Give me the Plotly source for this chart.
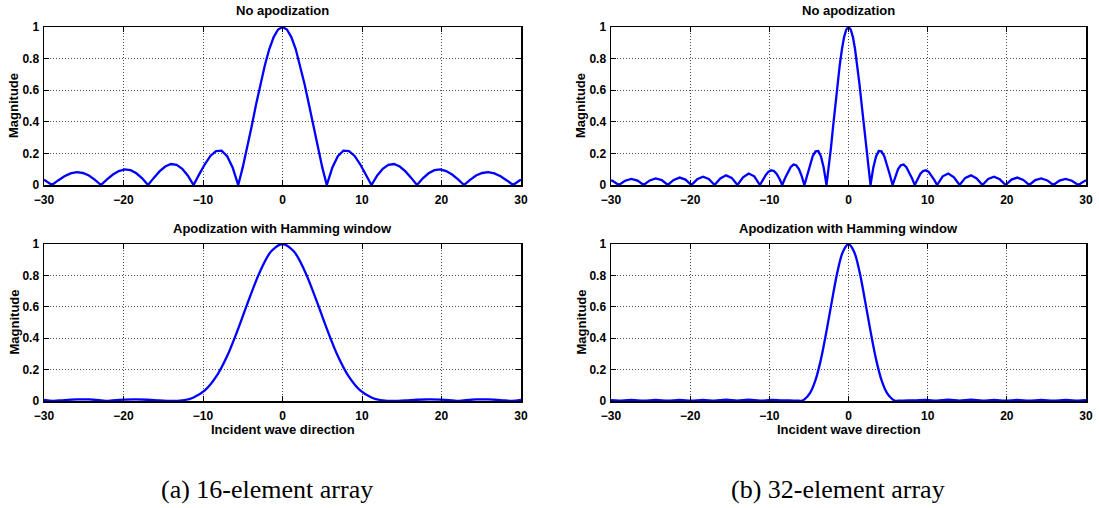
import plotly.graph_objects as go

# ---------------- data ----------------
angle_uni16 = [-30, -29.81, -29.01, -28.22, -27.43, -26.65, -25.88, -25.11, -24.35, -23.59, -22.83,
               -22.08, -21.33, -20.59, -19.85, -19.11, -18.38, -17.65, -16.92, -16.19, -15.47, -14.75,
               -14.03, -13.32, -12.61, -11.90, -11.19, -10.48, -9.77, -9.07, -8.37, -7.66, -6.96,
               -6.26, -5.57, -5.01, -4.45, -3.89, -3.34, -2.78, -2.22, -1.67, -1.11, -0.56,
               0,
               0.56, 1.11, 1.67, 2.22, 2.78, 3.34, 3.89, 4.45, 5.01, 5.57, 6.26, 6.96, 7.66, 8.37,
               9.07, 9.77, 10.48, 11.19, 11.90, 12.61, 13.32, 14.03, 14.75, 15.47, 16.19, 16.92,
               17.65, 18.38, 19.11, 19.85, 20.59, 21.33, 22.08, 22.83, 23.59, 24.35, 25.11, 25.88,
               26.65, 27.43, 28.22, 29.01, 29.81, 30]
mag_uni16 = [0.034, 0.028, 0, 0.029, 0.055, 0.073, 0.081, 0.076, 0.060, 0.033, 0,
             0.035, 0.066, 0.088, 0.099, 0.094, 0.074, 0.042, 0, 0.045, 0.086, 0.117,
             0.133, 0.128, 0.103, 0.059, 0, 0.067, 0.131, 0.184, 0.215, 0.217, 0.182,
             0.109, 0, 0.110, 0.235, 0.369, 0.506, 0.638, 0.758, 0.859, 0.936, 0.984,
             1,
             0.984, 0.936, 0.859, 0.758, 0.638, 0.506, 0.369, 0.235, 0.110, 0, 0.109, 0.182, 0.217, 0.215,
             0.184, 0.131, 0.067, 0, 0.059, 0.103, 0.128, 0.133, 0.117, 0.086, 0.045, 0,
             0.042, 0.074, 0.094, 0.099, 0.088, 0.066, 0.035, 0, 0.033, 0.060, 0.076, 0.081,
             0.073, 0.055, 0.029, 0, 0.028, 0.034]

angle_ham16 = [-30, -28.85, -27.43, -25.88, -24.35, -22.83, -22.05, -21.33, -19.85, -18.38, -16.92,
               -15.47, -13.46, -12.89, -12.32, -11.75, -11.19, -9.77, -8.37, -6.96, -5.57, -4.17,
               -2.78, -1.39,
               0,
               1.39, 2.78, 4.17, 5.57, 6.96, 8.37, 9.77, 11.19, 11.75, 12.32, 12.89, 13.46,
               15.47, 16.92, 18.38, 19.85, 21.33, 22.05, 22.83, 24.35, 25.88, 27.43, 28.85, 30]
mag_ham16 = [0.007, 0, 0.006, 0.010, 0.010, 0.004, 0, 0.004, 0.009, 0.010, 0.008,
             0.004, 0, 0.002, 0.006, 0.012, 0.022, 0.067, 0.153, 0.287, 0.461, 0.654,
             0.830, 0.955,
             1,
             0.955, 0.830, 0.654, 0.461, 0.287, 0.153, 0.067, 0.022, 0.012, 0.006, 0.002, 0,
             0.004, 0.008, 0.010, 0.009, 0.004, 0, 0.004, 0.010, 0.010, 0.006, 0, 0.007]

angle_uni32 = [-30, -29.81, -29.01, -28.22, -27.43, -26.65, -25.88, -25.11, -24.35, -23.59, -22.83,
               -22.08, -21.33, -20.59, -19.85, -19.11, -18.38, -17.65, -16.92, -16.19, -15.47,
               -14.75, -14.03, -13.32, -12.61, -11.90, -11.19, -10.83, -10.48, -10.13, -9.77,
               -9.42, -9.07, -8.72, -8.37, -8.02, -7.66, -7.31, -6.96, -6.61, -6.26, -5.92,
               -5.57, -5.22, -4.87, -4.52, -4.17, -3.82, -3.48, -3.13, -2.78, -2.50, -2.22,
               -1.95, -1.67, -1.39, -1.11, -0.83, -0.56, -0.28,
               0,
               0.28, 0.56, 0.83, 1.11, 1.39, 1.67, 1.95, 2.22, 2.50, 2.78, 3.13, 3.48, 3.82,
               4.17, 4.52, 4.87, 5.22, 5.57, 5.92, 6.26, 6.61, 6.96, 7.31, 7.66, 8.02, 8.37,
               8.72, 9.07, 9.42, 9.77, 10.13, 10.48, 10.83, 11.19, 11.90, 12.61, 13.32, 14.03,
               14.75, 15.47, 16.19, 16.92, 17.65, 18.38, 19.11, 19.85, 20.59, 21.33, 22.08,
               22.83, 23.59, 24.35, 25.11, 25.88, 26.65, 27.43, 28.22, 29.01, 29.81, 30]
mag_uni32 = [0.030, 0.026, 0, 0.027, 0.039, 0.028, 0, 0.029, 0.042, 0.031, 0,
             0.032, 0.047, 0.034, 0, 0.036, 0.052, 0.038, 0, 0.041, 0.061,
             0.045, 0, 0.049, 0.073, 0.055, 0, 0.032, 0.061, 0.083, 0.093,
             0.089, 0.070, 0.040, 0, 0.043, 0.083, 0.113, 0.129, 0.125, 0.101, 0.058,
             0, 0.065, 0.129, 0.182, 0.213, 0.215, 0.181, 0.109, 0, 0.109, 0.234,
             0.368, 0.505, 0.637, 0.757, 0.859, 0.936, 0.984,
             1,
             0.984, 0.936, 0.859, 0.757, 0.637, 0.505, 0.368, 0.234, 0.109, 0, 0.109, 0.181, 0.215,
             0.213, 0.182, 0.129, 0.065, 0, 0.058, 0.101, 0.125, 0.129, 0.113, 0.083, 0.043, 0,
             0.040, 0.070, 0.089, 0.093, 0.083, 0.061, 0.032, 0, 0.055, 0.073, 0.049, 0,
             0.045, 0.061, 0.041, 0, 0.038, 0.052, 0.036, 0, 0.034, 0.047, 0.032,
             0, 0.031, 0.042, 0.029, 0, 0.028, 0.039, 0.027, 0, 0.026, 0.030]

angle_ham32 = [-30, -29.01, -27.43, -25.88, -24.35, -22.83, -21.33, -19.85, -18.38, -16.92, -15.47,
               -14.03, -12.61, -11.19, -9.77, -8.37, -6.96, -6.26, -6.07, -5.92, -5.57, -4.87,
               -4.17, -3.48, -2.78, -2.08, -1.39, -0.69,
               0,
               0.69, 1.39, 2.08, 2.78, 3.48, 4.17, 4.87, 5.57, 5.92, 6.07, 6.26, 6.96, 8.37,
               9.77, 11.19, 12.61, 14.03, 15.47, 16.92, 18.38, 19.85, 21.33, 22.83, 24.35,
               25.88, 27.43, 29.01, 30]
mag_ham32 = [0.005, 0.002, 0.007, 0.002, 0.007, 0.002, 0.007, 0.002, 0.007, 0.002, 0.008,
             0.002, 0.008, 0.002, 0.007, 0.004, 0.003, 0.002, 0, 0.001, 0.010, 0.050,
             0.133, 0.266, 0.445, 0.641, 0.824, 0.953,
             1,
             0.953, 0.824, 0.641, 0.445, 0.266, 0.133, 0.050, 0.010, 0.001, 0, 0.002, 0.003, 0.004,
             0.007, 0.002, 0.008, 0.002, 0.008, 0.002, 0.007, 0.002, 0.007, 0.002, 0.007,
             0.002, 0.007, 0.002, 0.005]

x_ticks = [-30, -20, -10, 0, 10, 20, 30]
y_ticks = [0, 0.2, 0.4, 0.6, 0.8, 1]
y_tick_text = ["0", "0.2", "0.4", "0.6", "0.8", "1"]
titles_top = "No apodization"
titles_bottom = "Apodization with Hamming window"
y_label = "Magnitude"
x_label = "Incident wave direction"
captions = ["(a) 16-element array", "(b) 32-element array"]

# ---------------- figure ----------------
W, H = 1099, 508
SANS = "Liberation Sans, Arial, Helvetica, sans-serif"
BLUE = "#0000ff"

fig = go.Figure()

panels = [
    ("x", "y", angle_uni16, mag_uni16, "linear"),
    ("x2", "y2", angle_uni32, mag_uni32, "linear"),
    ("x3", "y3", angle_ham16, mag_ham16, "spline"),
    ("x4", "y4", angle_ham32, mag_ham32, "spline"),
]
for xa, ya, xs, ys, shape in panels:
    fig.add_trace(go.Scatter(x=xs, y=ys, xaxis=xa, yaxis=ya, mode="lines",
                             line=dict(color=BLUE, width=2.3, shape=shape),
                             showlegend=False, hoverinfo="skip"))

def px_x(p):
    return p / W

def px_y(p):
    return 1 - p / H

left_dom = [px_x(44), px_x(521)]
right_dom = [px_x(611), px_x(1086)]
top_dom = [px_y(185), px_y(27)]
bot_dom = [px_y(401), px_y(244)]

tickfont = dict(family=SANS, size=12, color="black", weight="bold")
GRID = dict(showgrid=True, gridcolor="#4d4d4d", gridwidth=1, griddash="1px,2px")

def xaxis(dom, anchor):
    return dict(domain=dom, anchor=anchor, range=[-30, 30], tickvals=x_ticks,
                ticks="inside", ticklen=5, tickwidth=1, tickcolor="black",
                showline=True, linecolor="black", linewidth=1.5, mirror="allticks",
                zeroline=False, tickfont=tickfont, fixedrange=True, automargin=False,
                ticklabelstandoff=3, **GRID)

def yaxis(dom, anchor):
    return dict(domain=dom, anchor=anchor, range=[0, 1], tickvals=y_ticks, ticktext=y_tick_text,
                ticks="inside", ticklen=5, tickwidth=1, tickcolor="black",
                showline=True, linecolor="black", linewidth=1.5, mirror="allticks",
                zeroline=False, tickfont=tickfont, fixedrange=True, automargin=False,
                ticklabelstandoff=1, **GRID)

fig.update_layout(
    template="none",
    width=W, height=H, autosize=False,
    margin=dict(l=0, r=0, t=0, b=0, pad=0),
    paper_bgcolor="white", plot_bgcolor="white",
    hovermode=False,
    xaxis=xaxis(left_dom, "y"), yaxis=yaxis(top_dom, "x"),
    xaxis2=xaxis(right_dom, "y2"), yaxis2=yaxis(top_dom, "x2"),
    xaxis3=xaxis(left_dom, "y3"), yaxis3=yaxis(bot_dom, "x3"),
    xaxis4=xaxis(right_dom, "y4"), yaxis4=yaxis(bot_dom, "x4"),
)

lab = dict(family=SANS, size=13, color="black", weight="bold")
ann = []
cx_left = (left_dom[0] + left_dom[1]) / 2
cx_right = (right_dom[0] + right_dom[1]) / 2
for cx in (cx_left, cx_right):
    ann.append(dict(text=titles_top, x=cx, y=px_y(11), xref="paper", yref="paper",
                    xanchor="center", yanchor="middle", showarrow=False, font=lab))
    ann.append(dict(text=titles_bottom, x=cx, y=px_y(228), xref="paper", yref="paper",
                    xanchor="center", yanchor="middle", showarrow=False, font=lab))
    ann.append(dict(text=x_label, x=cx, y=px_y(429), xref="paper", yref="paper",
                    xanchor="center", yanchor="middle", showarrow=False, font=lab))
for lx in (14, 581):
    for cy in (106, 322.5):
        ann.append(dict(text=y_label, x=px_x(lx), y=px_y(cy), xref="paper", yref="paper",
                        xanchor="center", yanchor="middle", showarrow=False, textangle=-90,
                        font=lab))
cap_font = dict(family="Liberation Serif, Times New Roman, serif", size=26, color="black")
for cap, cx in zip(captions, (267, 838)):
    ann.append(dict(text=cap, x=px_x(cx), y=px_y(489), xref="paper", yref="paper",
                    xanchor="center", yanchor="middle", showarrow=False, font=cap_font))
fig.update_layout(annotations=ann)

# remove the browser's default page margin so the figure fills the window exactly
fig.write_html("out.html",
               config={"displayModeBar": False, "staticPlot": True},
               post_script="document.body.style.margin='0';document.body.style.overflow='hidden';")
